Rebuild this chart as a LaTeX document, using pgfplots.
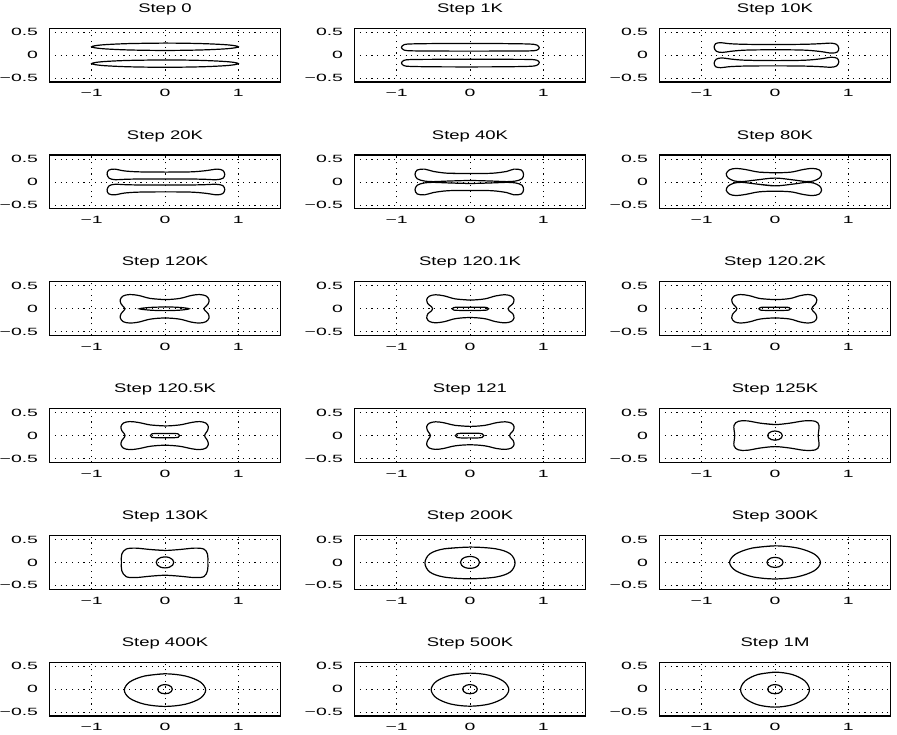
\documentclass[border=0pt]{standalone}
\usepackage{pgfplots}
\pgfplotsset{compat=1.18}
\usepackage{fontspec}
\setmainfont{Liberation Sans}
\pgfplotsset{
  panel/.style={
    scale only axis, width=231.6pt, height=53.8pt, anchor=north west,
    xmin=-1.58, xmax=1.58, ymin=-0.585, ymax=0.585,
    xtick={-1,0,1}, ytick={-0.5,0,0.5},
    xticklabels={−1,0,1}, yticklabels={−0.5,0,0.5},
    grid=major,
    major grid style={black, line width=0.9pt, dash pattern=on 1.2pt off 4.5pt},
    axis line style={black, line width=1.2pt},
    major tick length=0pt,
    tick label style={font=\fontsize{10.5}{12}\selectfont, xscale=1.85},
    xticklabel style={yshift=-4pt},
    yticklabel style={xshift=-2.5pt},
    title style={font=\fontsize{12.5}{14}\selectfont, xscale=1.48, at={(0.5,1)}, anchor=base, yshift=10pt},
  },
  cv/.style={black, line width=1.2pt, smooth, tension=0.55, mark=none},
}
\begin{document}
\begin{tikzpicture}[x=1pt,y=1pt]
\useasboundingbox (0,0) rectangle (897,735);
% ---------------- Row 1
\begin{axis}[panel, at={(49.2pt,706.7pt)}, title={Step 0}]
\addplot[cv] coordinates {(0,0.263)(-0.5,0.252)(-0.866,0.223)(-1,0.183)(-0.866,0.143)(-0.5,0.114)(0,0.103)(0.5,0.114)(0.866,0.143)(1,0.183)(0.866,0.223)(0.5,0.252)(0,0.263)(-0.5,0.252)};
\addplot[cv] coordinates {(0,-0.103)(-0.5,-0.114)(-0.866,-0.143)(-1,-0.183)(-0.866,-0.223)(-0.5,-0.252)(0,-0.263)(0.5,-0.252)(0.866,-0.223)(1,-0.183)(0.866,-0.143)(0.5,-0.114)(0,-0.103)(-0.5,-0.114)};
\end{axis}
\begin{axis}[panel, at={(354.2pt,706.7pt)}, title={Step 1K}]
\addplot[cv] coordinates {(0,0.255)(-0.45,0.253)(-0.8,0.245)(-0.9,0.228)(-0.935,0.17)(-0.9,0.112)(-0.8,0.095)(-0.45,0.09)(0,0.088)(0.45,0.09)(0.8,0.093)(0.91,0.108)(0.945,0.16)(0.91,0.222)(0.8,0.243)(0.45,0.252)(0,0.255)(-0.45,0.253)};
\addplot[cv] coordinates {(0,-0.088)(-0.45,-0.09)(-0.8,-0.095)(-0.9,-0.112)(-0.935,-0.17)(-0.9,-0.228)(-0.8,-0.245)(-0.45,-0.253)(0,-0.255)(0.45,-0.252)(0.8,-0.243)(0.91,-0.222)(0.945,-0.16)(0.91,-0.108)(0.8,-0.093)(0.45,-0.09)(0,-0.088)(-0.45,-0.09)};
\end{axis}
\begin{axis}[panel, at={(659.2pt,706.7pt)}, title={Step 10K}]
\addplot[cv] coordinates {(0,0.232)(-0.4,0.236)(-0.62,0.25)(-0.74,0.272)(-0.81,0.25)(-0.83,0.17)(-0.8,0.085)(-0.72,0.06)(-0.6,0.085)(-0.4,0.11)(0,0.118)(0.4,0.11)(0.62,0.08)(0.77,0.045)(0.85,0.07)(0.87,0.15)(0.84,0.235)(0.76,0.262)(0.62,0.25)(0.4,0.237)(0,0.232)(-0.4,0.236)};
\addplot[cv] coordinates {(0,-0.118)(-0.4,-0.11)(-0.6,-0.085)(-0.72,-0.06)(-0.8,-0.085)(-0.83,-0.17)(-0.81,-0.25)(-0.74,-0.272)(-0.62,-0.25)(-0.4,-0.236)(0,-0.232)(0.4,-0.237)(0.62,-0.25)(0.76,-0.262)(0.84,-0.235)(0.87,-0.15)(0.85,-0.07)(0.77,-0.045)(0.62,-0.08)(0.4,-0.11)(0,-0.118)(-0.4,-0.11)};
\end{axis}
% ---------------- Row 2
\begin{axis}[panel, at={(49.2pt,579.9pt)}, title={Step 20K}]
\addplot[cv] coordinates {(0,0.215)(-0.35,0.22)(-0.55,0.24)(-0.69,0.28)(-0.77,0.255)(-0.79,0.17)(-0.76,0.08)(-0.68,0.05)(-0.55,0.058)(-0.35,0.065)(0,0.065)(0.35,0.065)(0.55,0.058)(0.7,0.05)(0.79,0.08)(0.815,0.165)(0.79,0.25)(0.71,0.28)(0.55,0.245)(0.35,0.22)(0,0.215)(-0.35,0.22)};
\addplot[cv] coordinates {(0,-0.065)(-0.35,-0.065)(-0.55,-0.058)(-0.68,-0.05)(-0.76,-0.08)(-0.79,-0.17)(-0.77,-0.255)(-0.69,-0.28)(-0.55,-0.24)(-0.35,-0.22)(0,-0.215)(0.35,-0.22)(0.55,-0.245)(0.71,-0.28)(0.79,-0.25)(0.815,-0.165)(0.79,-0.08)(0.7,-0.05)(0.55,-0.058)(0.35,-0.065)(0,-0.065)(-0.35,-0.065)};
\end{axis}
\begin{axis}[panel, at={(354.2pt,579.9pt)}, title={Step 40K}]
\addplot[cv] coordinates {(0,0.185)(-0.3,0.19)(-0.5,0.23)(-0.62,0.28)(-0.72,0.26)(-0.75,0.17)(-0.72,0.07)(-0.62,0.02)(-0.5,0.008)(-0.3,0.02)(0,0.032)(0.3,0.02)(0.5,0.008)(0.62,0.02)(0.71,0.07)(0.73,0.17)(0.7,0.26)(0.6,0.28)(0.5,0.23)(0.3,0.19)(0,0.185)(-0.3,0.19)};
\addplot[cv] coordinates {(0,-0.032)(-0.3,-0.02)(-0.5,-0.008)(-0.62,-0.02)(-0.72,-0.07)(-0.75,-0.17)(-0.72,-0.26)(-0.62,-0.28)(-0.5,-0.23)(-0.3,-0.19)(0,-0.185)(0.3,-0.19)(0.5,-0.23)(0.6,-0.28)(0.7,-0.26)(0.73,-0.17)(0.71,-0.07)(0.62,-0.02)(0.5,-0.008)(0.3,-0.02)(0,-0.032)(-0.3,-0.02)};
\end{axis}
\begin{axis}[panel, at={(659.2pt,579.9pt)}, title={Step 80K}]
\addplot[cv] coordinates {(0,0.2)(-0.22,0.215)(-0.4,0.27)(-0.53,0.295)(-0.62,0.265)(-0.665,0.18)(-0.64,0.09)(-0.56,0.025)(-0.45,0.008)(-0.25,0.045)(0,0.085)(0.25,0.045)(0.43,0.008)(0.53,0.025)(0.61,0.09)(0.635,0.18)(0.6,0.265)(0.51,0.295)(0.38,0.27)(0.22,0.215)(0,0.2)(-0.22,0.215)};
\addplot[cv] coordinates {(0,-0.085)(-0.25,-0.045)(-0.45,-0.008)(-0.56,-0.025)(-0.64,-0.09)(-0.665,-0.18)(-0.62,-0.265)(-0.53,-0.295)(-0.4,-0.27)(-0.22,-0.215)(0,-0.2)(0.22,-0.215)(0.38,-0.27)(0.51,-0.295)(0.6,-0.265)(0.635,-0.18)(0.61,-0.09)(0.53,-0.025)(0.43,-0.008)(0.25,-0.045)(0,-0.085)(-0.25,-0.045)};
\end{axis}
% ---------------- Row 3
\begin{axis}[panel, at={(49.2pt,453.1pt)}, title={Step 120K}]
\addplot[cv] coordinates {(0,0.2)(-0.2,0.225)(-0.36,0.29)(-0.48,0.31)(-0.57,0.28)(-0.61,0.2)(-0.6,0.11)(-0.56,0.035)(-0.545,0)(-0.56,-0.035)(-0.6,-0.11)(-0.61,-0.2)(-0.57,-0.28)(-0.48,-0.31)(-0.36,-0.29)(-0.2,-0.225)(0,-0.2)(0.2,-0.225)(0.36,-0.29)(0.47,-0.31)(0.56,-0.28)(0.6,-0.2)(0.59,-0.11)(0.545,-0.035)(0.53,0)(0.545,0.035)(0.59,0.11)(0.6,0.2)(0.56,0.28)(0.47,0.31)(0.36,0.29)(0.2,0.225)(0,0.2)(-0.2,0.225)};
\addplot[cv] coordinates {(0,0.04)(-0.2,0.03)(-0.35,0)(-0.2,-0.03)(0,-0.04)(0.2,-0.03)(0.33,0)(0.2,0.03)(0,0.04)(-0.2,0.03)};
\end{axis}
\begin{axis}[panel, at={(354.2pt,453.1pt)}, title={Step 120.1K}]
\addplot[cv] coordinates {(0,0.19)(-0.2,0.215)(-0.35,0.28)(-0.47,0.305)(-0.555,0.275)(-0.59,0.2)(-0.575,0.11)(-0.525,0.045)(-0.51,0)(-0.525,-0.045)(-0.575,-0.11)(-0.59,-0.2)(-0.555,-0.275)(-0.47,-0.305)(-0.35,-0.28)(-0.2,-0.215)(0,-0.19)(0.2,-0.215)(0.35,-0.28)(0.48,-0.305)(0.565,-0.275)(0.6,-0.2)(0.585,-0.11)(0.535,-0.045)(0.52,0)(0.535,0.045)(0.585,0.11)(0.6,0.2)(0.565,0.275)(0.48,0.305)(0.35,0.28)(0.2,0.215)(0,0.19)(-0.2,0.215)};
\addplot[cv] coordinates {(0,0.035)(-0.15,0.035)(-0.22,0.028)(-0.245,0)(-0.22,-0.028)(-0.15,-0.035)(0,-0.035)(0.15,-0.035)(0.23,-0.028)(0.255,0)(0.23,0.028)(0.15,0.035)(0,0.035)(-0.15,0.035)};
\end{axis}
\begin{axis}[panel, at={(659.2pt,453.1pt)}, title={Step 120.2K}]
\addplot[cv] coordinates {(0,0.2)(-0.2,0.222)(-0.35,0.285)(-0.47,0.31)(-0.555,0.28)(-0.59,0.2)(-0.575,0.11)(-0.535,0.045)(-0.52,0)(-0.535,-0.045)(-0.575,-0.11)(-0.59,-0.2)(-0.555,-0.28)(-0.47,-0.31)(-0.35,-0.285)(-0.2,-0.222)(0,-0.2)(0.2,-0.222)(0.34,-0.285)(0.45,-0.31)(0.535,-0.28)(0.57,-0.2)(0.555,-0.11)(0.515,-0.045)(0.5,0)(0.515,0.045)(0.555,0.11)(0.57,0.2)(0.535,0.28)(0.45,0.31)(0.34,0.285)(0.2,0.222)(0,0.2)(-0.2,0.222)};
\addplot[cv] coordinates {(0,0.035)(-0.14,0.035)(-0.2,0.028)(-0.22,0)(-0.2,-0.028)(-0.14,-0.035)(0,-0.035)(0.13,-0.035)(0.19,-0.028)(0.21,0)(0.19,0.028)(0.13,0.035)(0,0.035)(-0.14,0.035)};
\end{axis}
% ---------------- Row 4
\begin{axis}[panel, at={(49.2pt,326.3pt)}, title={Step 120.5K}]
\addplot[cv] coordinates {(0,0.21)(-0.2,0.232)(-0.36,0.285)(-0.48,0.305)(-0.565,0.275)(-0.6,0.2)(-0.59,0.11)(-0.555,0.04)(-0.545,0)(-0.555,-0.04)(-0.59,-0.11)(-0.6,-0.2)(-0.565,-0.275)(-0.48,-0.305)(-0.36,-0.285)(-0.2,-0.232)(0,-0.21)(0.2,-0.232)(0.36,-0.285)(0.47,-0.305)(0.555,-0.275)(0.59,-0.2)(0.58,-0.11)(0.55,-0.04)(0.54,0)(0.55,0.04)(0.58,0.11)(0.59,0.2)(0.555,0.275)(0.47,0.305)(0.36,0.285)(0.2,0.232)(0,0.21)(-0.2,0.232)};
\addplot[cv] coordinates {(0,0.045)(-0.13,0.045)(-0.18,0.036)(-0.2,0)(-0.18,-0.036)(-0.13,-0.045)(0,-0.045)(0.13,-0.045)(0.18,-0.036)(0.2,0)(0.18,0.036)(0.13,0.045)(0,0.045)(-0.13,0.045)};
\end{axis}
\begin{axis}[panel, at={(354.2pt,326.3pt)}, title={Step 121}]
\addplot[cv] coordinates {(0,0.2)(-0.2,0.222)(-0.36,0.28)(-0.47,0.3)(-0.555,0.27)(-0.59,0.2)(-0.58,0.11)(-0.55,0.04)(-0.54,0)(-0.55,-0.04)(-0.58,-0.11)(-0.59,-0.2)(-0.555,-0.27)(-0.47,-0.3)(-0.36,-0.28)(-0.2,-0.222)(0,-0.2)(0.2,-0.222)(0.36,-0.28)(0.48,-0.3)(0.565,-0.27)(0.6,-0.2)(0.59,-0.11)(0.55,-0.04)(0.54,0)(0.55,0.04)(0.59,0.11)(0.6,0.2)(0.565,0.27)(0.48,0.3)(0.36,0.28)(0.2,0.222)(0,0.2)(-0.2,0.222)};
\addplot[cv] coordinates {(0,0.05)(-0.13,0.05)(-0.175,0.04)(-0.2,0)(-0.175,-0.04)(-0.13,-0.05)(0,-0.05)(0.12,-0.05)(0.165,-0.04)(0.19,0)(0.165,0.04)(0.12,0.05)(0,0.05)(-0.13,0.05)};
\end{axis}
\begin{axis}[panel, at={(659.2pt,326.3pt)}, title={Step 125K}]
\addplot[cv] coordinates {(0,0.24)(-0.2,0.27)(-0.38,0.32)(-0.5,0.31)(-0.56,0.22)(-0.55,0)(-0.56,-0.22)(-0.5,-0.31)(-0.38,-0.32)(-0.2,-0.27)(0,-0.24)(0.2,-0.27)(0.4,-0.32)(0.55,-0.31)(0.6,-0.22)(0.59,0)(0.6,0.22)(0.55,0.31)(0.4,0.32)(0.2,0.27)(0,0.24)(-0.2,0.27)};
\addplot[cv] coordinates {(0,0.1)(-0.05,0.0866)(-0.0866,0.05)(-0.1,0)(-0.0866,-0.05)(-0.05,-0.0866)(0,-0.1)(0.05,-0.0866)(0.0866,-0.05)(0.1,0)(0.0866,0.05)(0.05,0.0866)(0,0.1)(-0.05,0.0866)};
\end{axis}
% ---------------- Row 5
\begin{axis}[panel, at={(49.2pt,199.5pt)}, title={Step 130K}]
\addplot[cv] coordinates {(0,0.26)(-0.2,0.28)(-0.4,0.31)(-0.53,0.29)(-0.59,0.18)(-0.595,0)(-0.59,-0.18)(-0.53,-0.31)(-0.4,-0.33)(-0.2,-0.3)(0,-0.28)(0.2,-0.3)(0.4,-0.33)(0.53,-0.31)(0.58,-0.18)(0.585,0)(0.58,0.18)(0.53,0.29)(0.4,0.31)(0.2,0.28)(0,0.26)(-0.2,0.28)};
\addplot[cv] coordinates {(0,0.12)(-0.06,0.104)(-0.104,0.06)(-0.12,0)(-0.104,-0.06)(-0.06,-0.104)(0,-0.12)(0.06,-0.104)(0.104,-0.06)(0.12,0)(0.104,0.06)(0.06,0.104)(0,0.12)(-0.06,0.104)};
\end{axis}
\begin{axis}[panel, at={(354.2pt,199.5pt)}, title={Step 200K}]
\addplot[cv] coordinates {(0,0.333)(-0.353,0.295)(-0.548,0.186)(-0.615,-0.012)(-0.548,-0.21)(-0.353,-0.319)(0,-0.357)(0.353,-0.319)(0.548,-0.21)(0.615,-0.012)(0.548,0.186)(0.353,0.295)(0,0.333)(-0.353,0.295)};
\addplot[cv] coordinates {(0,0.13)(-0.065,0.113)(-0.113,0.065)(-0.13,0)(-0.113,-0.065)(-0.065,-0.113)(0,-0.13)(0.065,-0.113)(0.113,-0.065)(0.13,0)(0.113,0.065)(0.065,0.113)(0,0.13)(-0.065,0.113)};
\end{axis}
\begin{axis}[panel, at={(659.2pt,199.5pt)}, title={Step 300K}]
\addplot[cv] coordinates {(0,0.36)(-0.31,0.312)(-0.537,0.18)(-0.62,0)(-0.537,-0.18)(-0.31,-0.312)(0,-0.36)(0.31,-0.312)(0.537,-0.18)(0.62,0)(0.537,0.18)(0.31,0.312)(0,0.36)(-0.31,0.312)};
\addplot[cv] coordinates {(0,0.11)(-0.055,0.095)(-0.095,0.055)(-0.11,0)(-0.095,-0.055)(-0.055,-0.095)(0,-0.11)(0.055,-0.095)(0.095,-0.055)(0.11,0)(0.095,0.055)(0.055,0.095)(0,0.11)(-0.055,0.095)};
\end{axis}
% ---------------- Row 6
\begin{axis}[panel, at={(49.2pt,72.7pt)}, title={Step 400K}]
\addplot[cv] coordinates {(0,0.335)(-0.278,0.287)(-0.481,0.158)(-0.555,-0.02)(-0.481,-0.198)(-0.278,-0.327)(0,-0.375)(0.278,-0.327)(0.481,-0.198)(0.555,-0.02)(0.481,0.158)(0.278,0.287)(0,0.335)(-0.278,0.287)};
\addplot[cv] coordinates {(0,0.1)(-0.05,0.0866)(-0.0866,0.05)(-0.1,0)(-0.0866,-0.05)(-0.05,-0.0866)(0,-0.1)(0.05,-0.0866)(0.0866,-0.05)(0.1,0)(0.0866,0.05)(0.05,0.0866)(0,0.1)(-0.05,0.0866)};
\end{axis}
\begin{axis}[panel, at={(354.2pt,72.7pt)}, title={Step 500K}]
\addplot[cv] coordinates {(0,0.35)(-0.265,0.302)(-0.459,0.17)(-0.53,-0.01)(-0.459,-0.19)(-0.265,-0.322)(0,-0.37)(0.265,-0.322)(0.459,-0.19)(0.53,-0.01)(0.459,0.17)(0.265,0.302)(0,0.35)(-0.265,0.302)};
\addplot[cv] coordinates {(0,0.1)(-0.05,0.0866)(-0.0866,0.05)(-0.1,0)(-0.0866,-0.05)(-0.05,-0.0866)(0,-0.1)(0.05,-0.0866)(0.0866,-0.05)(0.1,0)(0.0866,0.05)(0.05,0.0866)(0,0.1)(-0.05,0.0866)};
\end{axis}
\begin{axis}[panel, at={(659.2pt,72.7pt)}, title={Step 1M}]
\addplot[cv] coordinates {(0,0.37)(-0.235,0.319)(-0.407,0.18)(-0.47,-0.01)(-0.407,-0.2)(-0.235,-0.339)(0,-0.39)(0.235,-0.339)(0.407,-0.2)(0.47,-0.01)(0.407,0.18)(0.235,0.319)(0,0.37)(-0.235,0.319)};
\addplot[cv] coordinates {(0,0.1)(-0.05,0.0866)(-0.0866,0.05)(-0.1,0)(-0.0866,-0.05)(-0.05,-0.0866)(0,-0.1)(0.05,-0.0866)(0.0866,-0.05)(0.1,0)(0.0866,0.05)(0.05,0.0866)(0,0.1)(-0.05,0.0866)};
\end{axis}
\end{tikzpicture}
\end{document}
